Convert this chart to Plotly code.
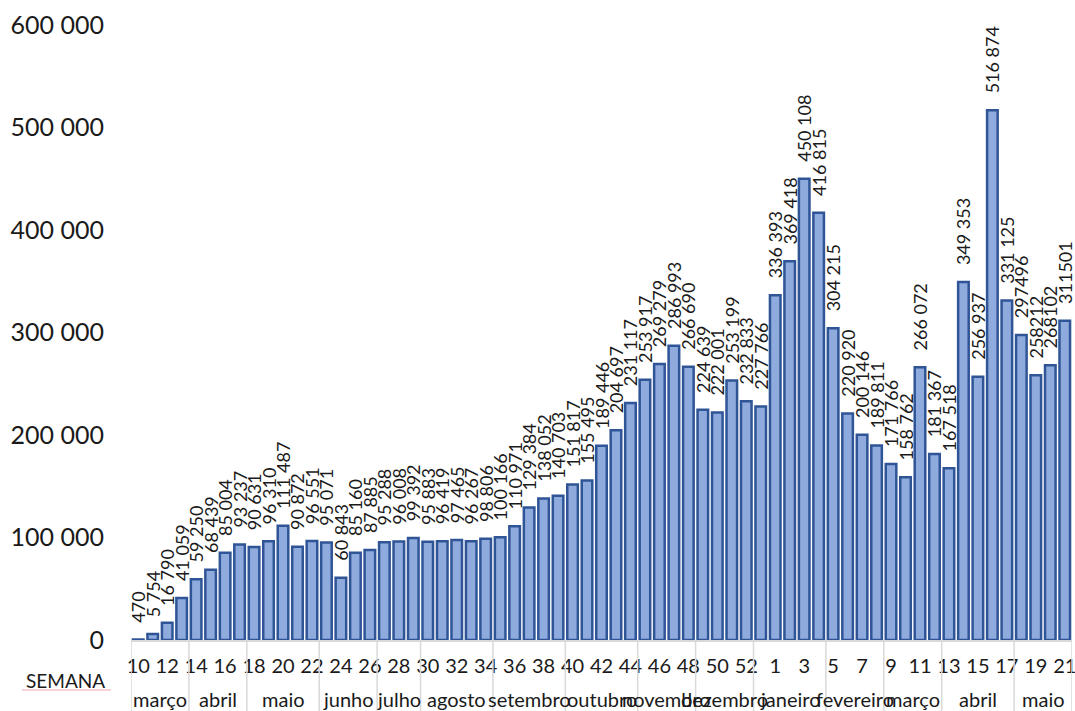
import plotly.graph_objects as go

# ---- data ----
weeks = [10, 11, 12, 13, 14, 15, 16, 17, 18, 19, 20, 21, 22, 23, 24, 25, 26, 27, 28, 29,
         30, 31, 32, 33, 34, 35, 36, 37, 38, 39, 40, 41, 42, 43, 44, 45, 46, 47, 48, 49,
         50, 51, 52, 53, 1, 2, 3, 4, 5, 6, 7, 8, 9, 10, 11, 12, 13, 14, 15, 16,
         17, 18, 19, 20, 21]

cases = [470, 5754, 16790, 41059, 59250, 68439, 85004, 93237, 90631, 96310,
         111487, 90872, 96551, 95071, 60843, 85160, 87885, 95288, 96008, 99392,
         95883, 96419, 97465, 96267, 98806, 100166, 110971, 129384, 138052, 140703,
         151817, 155495, 189446, 204697, 231117, 253917, 269279, 286993, 266690, 224639,
         222001, 253199, 232833, 227766, 336393, 369418, 450108, 416815, 304215, 220920,
         200146, 189811, 171766, 158762, 266072, 181367, 167518, 349353, 256937, 516874,
         331125, 297496, 258212, 268102, 311501]

month_names = ["março", "abril", "maio", "junho", "julho", "agosto", "setembro", "outubro",
               "novembro", "dezembro", "janeiro", "fevereiro", "março", "abril", "maio"]
month_sizes = [4, 4, 5, 4, 3, 5, 5, 5, 4, 4, 5, 4, 4, 5, 4]

y_tick_values = [0, 100000, 200000, 300000, 400000, 500000, 600000]

# labels of the last weeks (maio 2021) are shown without thousands separator
unspaced_from = 61

FONT = "Lato"
TXT = "#1a1a1a"
PAD = "\u00a0\u00a0\u00a0"  # gap between bar top and its rotated label

idx = list(range(len(cases)))


def fmt(i, v):
    if i >= unspaced_from:
        return str(v)
    return f"{v:,}".replace(",", " ")


labels = [PAD + fmt(i, v) for i, v in zip(idx, cases)]

fig = go.Figure()
fig.add_trace(go.Bar(
    x=idx, y=cases,
    marker=dict(color="#8FAADC", line=dict(color="#2F5597", width=2.5)),
    text=labels, textposition="outside", textangle=-90,
    textfont=dict(family=FONT, size=18, color=TXT),
    constraintext="none", cliponaxis=False,
    hoverinfo="x+y",
))

H_PLOT = 615.0
shapes = []
annotations = []
start = 0
bounds = [-0.5]
for name, n in zip(month_names, month_sizes):
    center = start + (n - 1) / 2.0
    annotations.append(dict(x=center, xref="x", y=0, yref="paper", yanchor="middle",
                            xanchor="center", yshift=-59, text=name, showarrow=False,
                            font=dict(family=FONT, size=20, color=TXT)))
    start += n
    bounds.append(start - 0.5)
for b in bounds:
    shapes.append(dict(type="line", xref="x", yref="paper", x0=b, x1=b, y0=0, y1=-0.12,
                       line=dict(color="#D9D9D9", width=1.5)))

annotations.append(dict(x=0, xref="paper", y=0, yref="paper", xanchor="center", yanchor="middle",
                        xshift=-66, yshift=-40, text="SEMANA", showarrow=False,
                        font=dict(family=FONT, size=19, color=TXT)))
# light spell-check style underline under "SEMANA"
shapes.append(dict(type="line", xref="paper", yref="paper",
                   x0=(22 - 131) / 941.0, x1=(111 - 131) / 941.0,
                   y0=(640 - 690) / H_PLOT, y1=(640 - 690) / H_PLOT,
                   line=dict(color="#F2A7A7", width=1.2)))

fig.update_layout(
    width=1075, height=711,
    margin=dict(l=131, r=3, t=25, b=71),
    paper_bgcolor="white", plot_bgcolor="white",
    bargap=0.27, showlegend=False,
    separators=". ",
    shapes=shapes, annotations=annotations,
    xaxis=dict(range=[-0.5, len(cases) - 0.5], tickmode="array",
               tickvals=idx[::2], ticktext=[str(w) for w in weeks[::2]],
               showline=True, linecolor="#D9D9D9", linewidth=1.5,
               ticks="outside", ticklen=7, tickcolor="rgba(0,0,0,0)",
               showgrid=False, zeroline=False, automargin=False,
               ticklabeloverflow="allow",
               tickfont=dict(family=FONT, size=20, color=TXT)),
    yaxis=dict(range=[0, 600000], tickmode="array", tickvals=y_tick_values,
               tickformat=",d", showgrid=False, zeroline=False, showline=False,
               ticks="outside", ticklen=21, tickcolor="rgba(0,0,0,0)", automargin=False,
               tickfont=dict(family=FONT, size=25, color=TXT)),
)

fig.write_html("out.html", config={"displayModeBar": False},
               post_script="document.body.style.margin='0';")
